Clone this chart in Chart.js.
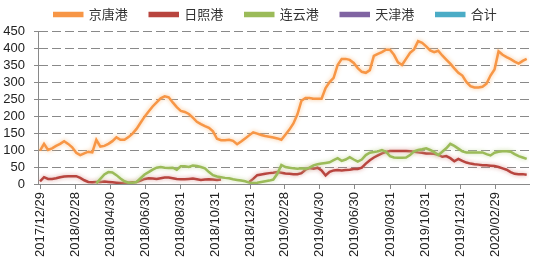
<!DOCTYPE html>
<html>
<head>
<meta charset="utf-8">
<script src="https://cdn.jsdelivr.net/npm/chart.js@4.4.0/dist/chart.umd.min.js"></script>
<style>
  html, body { margin: 0; padding: 0; background: #fff; }
  #wrap { width: 550px; height: 273px; }
</style>
</head>
<body>
<div id="wrap"><canvas id="c" width="550" height="273"></canvas></div>
<script>
// weekly series, first week = START_DATE
const START_DATE = '2017/12/29';
const SERIES_NAMES = ['京唐港', '日照港', '连云港', '天津港', '合计'];
const TICK_LABELS = ['2017/12/29', '2018/02/28', '2018/04/30', '2018/06/30', '2018/08/31', '2018/10/31', '2018/12/31',
  '2019/02/28', '2019/04/30', '2019/06/30', '2019/08/31', '2019/10/31', '2019/12/31', '2020/02/29'];
const Y_TICKS = [0, 50, 100, 150, 200, 250, 300, 350, 400, 450];

const JINGTANG = [
  98, 118, 100, 105, 112, 118, 126, 118, 108, 92,
  85, 90, 95, 93, 130, 110, 112, 118, 126, 137,
  130, 130, 138, 148, 162, 180, 198, 213, 228, 240,
  252, 258, 255, 240, 226, 215, 212, 206, 195, 183,
  176, 170, 165, 155, 133, 129, 129, 130, 127, 117,
  125, 134, 143, 152, 148, 144, 141, 139, 137, 134,
  130, 145, 160, 178, 205, 245, 253, 253, 251, 251,
  251, 282, 300, 312, 350, 368, 368, 365, 356, 341,
  330, 327, 335, 377, 383, 388, 395, 395, 380, 358,
  350, 368, 386, 396, 420, 415, 405, 393, 388, 392,
  378, 366, 354, 340, 327, 319, 300, 288, 284, 284,
  286, 295, 319, 337, 390, 380, 373, 367, 360, 354, 362, 368
];
const RIZHAO = [
  8, 20, 15, 15, 17, 20, 22, 23, 23, 23,
  18, 11, 6, 5, 6, 6, 7, 6, 5, 4,
  3, 3, 4, 5, 6, 10, 15, 17, 16, 15,
  17, 19, 19, 17, 15, 14, 14, 15, 16, 14,
  12, 13, 14, 13, 12, 13, null, null, null, null,
  null, null, 6, 15, 26, 28, 30, 32, 33, 35,
  33, 31, 30, 29, 29, 32, 42, 47, 45, 48,
  40, 25, 36, 40, 41, 40, 41, 42, 44, 44,
  48, 60, 70, 78, 84, 90, 94, 97, 97, 97,
  97, 97, 96, 95, 93, 92, 90, 90, 89, 86,
  80, 82, 76, 67, 74, 68, 63, 60, 58, 57,
  55, 55, 54, 53, 50, 46, 42, 35, 30, 29, 29, 27
];
const LIANYUN = [
  null, null, null, null, null, null, null, null, null, null,
  null, null, null, null, 2, 15, 28, 35, 34, 26,
  16, 8, 4, 4, 6, 17, 28, 35, 42, 48,
  50, 48, 47, 48, 42, 52, 52, 50, 54, 53,
  50, 46, 35, 26, 22, 20, 18, 17, 14, 12,
  10, 8, 4, 3, 4, 6, 8, 10, 13, 30,
  56, 50, 48, 46, 45, 46, 44, 48, 55, 58,
  60, 62, 64, 70, 76, 68, 72, 79, 72, 66,
  72, 85, 92, 94, 96, 100, 95, 82, 78, 77,
  77, 78, 85, 96, 100, 102, 105, 100, 94, 85,
  95, 105, 118, 112, 104, 96, 93, 93, 93, 93,
  93, 88, 84, 92, 95, 96, 96, 95, 88, 82, 78, 74
];
const TIANJIN = [];
const TOTAL = [];

const COLORS = ['#F79646', '#B8453F', '#9BBB59', '#8064A2', '#4BACC6'];
const GLOWS = ['rgba(250,190,130,0.9)', 'rgba(215,140,135,0.8)', 'rgba(200,220,160,0.9)', 'rgba(180,160,210,0.8)', 'rgba(150,210,225,0.8)'];

const DAY = 86400000;
function parseDay(s) {
  const p = s.split('/').map(Number);
  return Date.UTC(p[0], p[1] - 1, p[2]);
}
const t0 = parseDay(START_DATE);
const tickDays = TICK_LABELS.map(s => Math.round((parseDay(s) - t0) / DAY));

function toPoints(arr) {
  return arr.map((v, i) => ({ x: i * 7, y: v }));
}

const seriesData = [JINGTANG, RIZHAO, LIANYUN, TIANJIN, TOTAL];

const datasets = SERIES_NAMES.map((name, k) => ({
  label: name,
  data: toPoints(seriesData[k]),
  borderColor: COLORS[k],
  backgroundColor: COLORS[k],
  borderWidth: 2.5,
  pointRadius: 0,
  tension: 0,
  spanGaps: false,
  order: 10 - k,
  glowColor: GLOWS[k]
}));

// soft halo round each line
const glow = {
  id: 'glow',
  beforeDatasetDraw(chart, args) {
    const ds = chart.data.datasets[args.index];
    chart.ctx.save();
    chart.ctx.shadowColor = ds.glowColor;
    chart.ctx.shadowBlur = 4;
  },
  afterDatasetDraw(chart) {
    chart.ctx.restore();
  }
};

// legend sits centred on the whole canvas, not on the padded box
const legendShift = {
  id: 'legendShift',
  afterLayout(chart) {
    chart.legend.left += 11;
    chart.legend.right += 11;
  }
};

const AXIS = '#898989';
const TXT = '#222';

new Chart(document.getElementById('c'), {
  type: 'line',
  data: { datasets },
  plugins: [glow, legendShift],
  options: {
    responsive: false,
    animation: false,
    layout: { padding: { top: -14, right: 21, left: 0, bottom: 0 } },
    plugins: {
      tooltip: { enabled: false },
      legend: {
        position: 'top',
        labels: {
          boxWidth: 28,
          boxHeight: 3,
          padding: 22,
          color: '#333',
          font: { family: '"Noto Sans CJK SC", sans-serif', size: 13 },
          sort: (a, b) => a.datasetIndex - b.datasetIndex
        }
      }
    },
    scales: {
      x: {
        type: 'linear',
        min: -3.5,
        max: 851,
        afterBuildTicks: s => { s.ticks = tickDays.map(v => ({ value: v })); },
        afterFit: s => { s.height = 89; },
        ticks: {
          autoSkip: false,
          minRotation: 90,
          maxRotation: 90,
          padding: 3,
          color: TXT,
          font: { family: '"Liberation Sans", Arial, sans-serif', size: 13 },
          callback: v => {
            const i = tickDays.indexOf(v);
            return i >= 0 ? TICK_LABELS[i] : '';
          }
        },
        grid: { drawOnChartArea: false, tickLength: 5, color: AXIS },
        border: { color: AXIS, width: 1 }
      },
      y: {
        min: 0,
        max: 450,
        afterBuildTicks: s => { s.ticks = Y_TICKS.map(v => ({ value: v })); },
        afterFit: s => { s.width = 38; },
        ticks: {
          autoSkip: false,
          padding: 9,
          color: TXT,
          font: { family: '"Liberation Sans", Arial, sans-serif', size: 13 }
        },
        grid: { color: AXIS, tickLength: 4, lineWidth: 1 },
        border: { color: AXIS, width: 1, dash: [9, 4] }
      }
    }
  }
});
</script>
</body>
</html>
